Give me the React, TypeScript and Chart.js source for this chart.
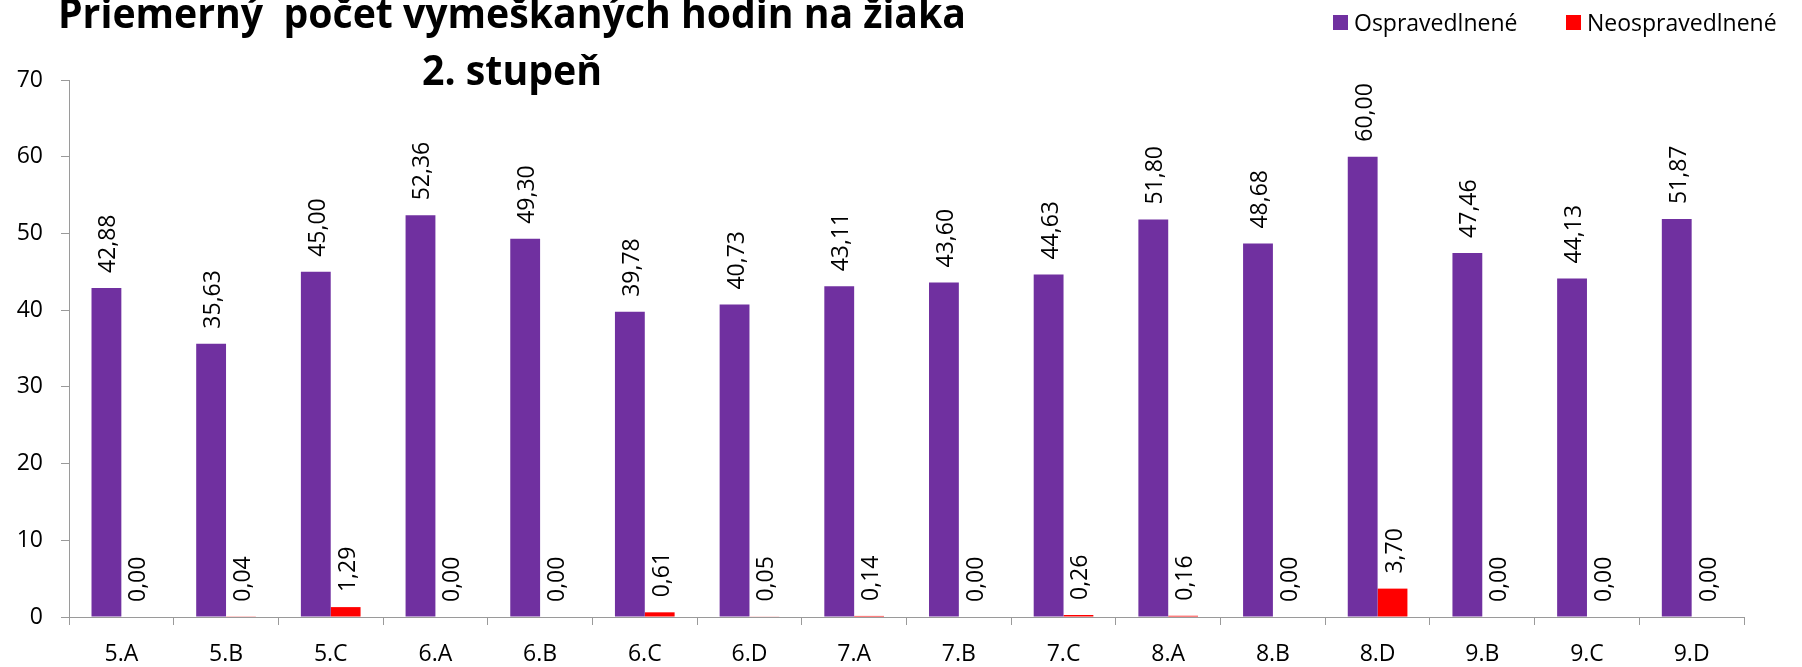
import React, { useEffect, useRef } from 'react';
import { Chart, registerables } from 'chart.js';

Chart.register(...registerables);

const categories = ['5.A', '5.B', '5.C', '6.A', '6.B', '6.C', '6.D', '7.A', '7.B', '7.C', '8.A', '8.B', '8.D', '9.B', '9.C', '9.D'];
const ospravedlnene = [42.88, 35.63, 45.0, 52.36, 49.3, 39.78, 40.73, 43.11, 43.6, 44.63, 51.8, 48.68, 60.0, 47.46, 44.13, 51.87];
const neospravedlnene = [0.0, 0.04, 1.29, 0.0, 0.0, 0.61, 0.05, 0.14, 0.0, 0.26, 0.16, 0.0, 3.7, 0.0, 0.0, 0.0];
const seriesNames = ['Ospravedlnené', 'Neospravedlnené'];
const seriesColors = ['#7030A0', '#FF0000'];
const titleLines = ['Priemerný  počet vymeškaných hodin na žiaka', '2. stupeň'];
const yMin = 0;
const yMax = 70;
const yStep = 10;

const FONT = '"Open Sans", "DejaVu Sans", sans-serif';
const AXIS = '#9a9a9a';

const fmt = (v: number) => v.toFixed(2).replace('.', ',');

const titlePlugin = {
  id: 'customTitle',
  afterDraw(chart: any) {
    const ctx = chart.ctx;
    const cx = 512;
    const specs = [
      { text: titleLines[0], y: 28, w: 908 },
      { text: titleLines[1], y: 85, w: 180 },
    ];
    ctx.save();
    ctx.fillStyle = '#000';
    ctx.font = 'bold 42px "Open Sans", sans-serif';
    ctx.textBaseline = 'alphabetic';
    ctx.textAlign = 'center';
    specs.forEach((s) => {
      const m = ctx.measureText(s.text).width;
      const sx = s.w / m;
      ctx.save();
      ctx.translate(cx, s.y);
      ctx.scale(sx, 1);
      ctx.fillText(s.text, 0, 0);
      ctx.restore();
    });
    ctx.restore();
  },
};

const legendPlugin = {
  id: 'customLegend',
  afterDraw(chart: any) {
    const ctx = chart.ctx;
    const items = [
      { x: 1333, label: seriesNames[0], color: seriesColors[0] },
      { x: 1566, label: seriesNames[1], color: seriesColors[1] },
    ];
    ctx.save();
    ctx.font = `23px ${FONT}`;
    ctx.textBaseline = 'alphabetic';
    ctx.textAlign = 'left';
    items.forEach((it) => {
      ctx.fillStyle = it.color;
      ctx.fillRect(it.x, 15, 15, 15);
      ctx.fillStyle = '#000';
      ctx.fillText(it.label, it.x + 21, 31);
    });
    ctx.restore();
  },
};

const labelPlugin = {
  id: 'barLabels',
  afterDatasetsDraw(chart: any) {
    const ctx = chart.ctx;
    ctx.save();
    ctx.font = `23px ${FONT}`;
    ctx.fillStyle = '#000';
    ctx.textAlign = 'left';
    ctx.textBaseline = 'alphabetic';
    chart.data.datasets.forEach((ds: any, di: number) => {
      const meta = chart.getDatasetMeta(di);
      meta.data.forEach((bar: any, i: number) => {
        const v = ds.data[i];
        ctx.save();
        ctx.translate(bar.x + 9, bar.y - 15);
        ctx.rotate(-Math.PI / 2);
        ctx.fillText(fmt(v), 0, 0);
        ctx.restore();
      });
    });
    ctx.restore();
  },
};

export default function App() {
  const ref = useRef<HTMLCanvasElement | null>(null);
  useEffect(() => {
    if (!ref.current) return;
    const chart = new Chart(ref.current, {
      type: 'bar',
      data: {
        labels: categories,
        datasets: [
          { label: seriesNames[0], data: ospravedlnene, backgroundColor: seriesColors[0], categoryPercentage: 0.57, barPercentage: 1.0 },
          { label: seriesNames[1], data: neospravedlnene, backgroundColor: seriesColors[1], categoryPercentage: 0.57, barPercentage: 1.0 },
        ],
      },
      options: {
        responsive: false,
        animation: false,
        layout: { padding: { top: 80, right: 58, left: 0, bottom: 0 } },
        plugins: {
          legend: { display: false },
          title: { display: false },
          tooltip: { enabled: false },
        },
        scales: {
          x: {
            grid: { drawOnChartArea: false, drawTicks: true, tickLength: 8, color: AXIS, offset: true },
            border: { color: AXIS },
            ticks: { font: { family: FONT, size: 23 }, color: '#000', padding: 16, maxRotation: 0, autoSkip: false },
            afterFit: (s: any) => { s.height = 50; },
          },
          y: {
            min: yMin,
            max: yMax,
            grid: { drawOnChartArea: false, drawTicks: true, tickLength: 8, color: AXIS },
            border: { color: AXIS },
            ticks: { stepSize: yStep, font: { family: FONT, size: 23 }, color: '#000', padding: 18 },
            afterFit: (s: any) => { s.width = 69; },
          },
        },
      },
      plugins: [labelPlugin, titlePlugin, legendPlugin],
    } as any);
    return () => chart.destroy();
  }, []);
  return (
    <div style={{ position: 'absolute', left: 0, top: 0, width: 1802, height: 667, background: '#fff' }}>
      <canvas ref={ref} width={1802} height={667} style={{ display: 'block', width: 1802, height: 667 }} />
    </div>
  );
}
